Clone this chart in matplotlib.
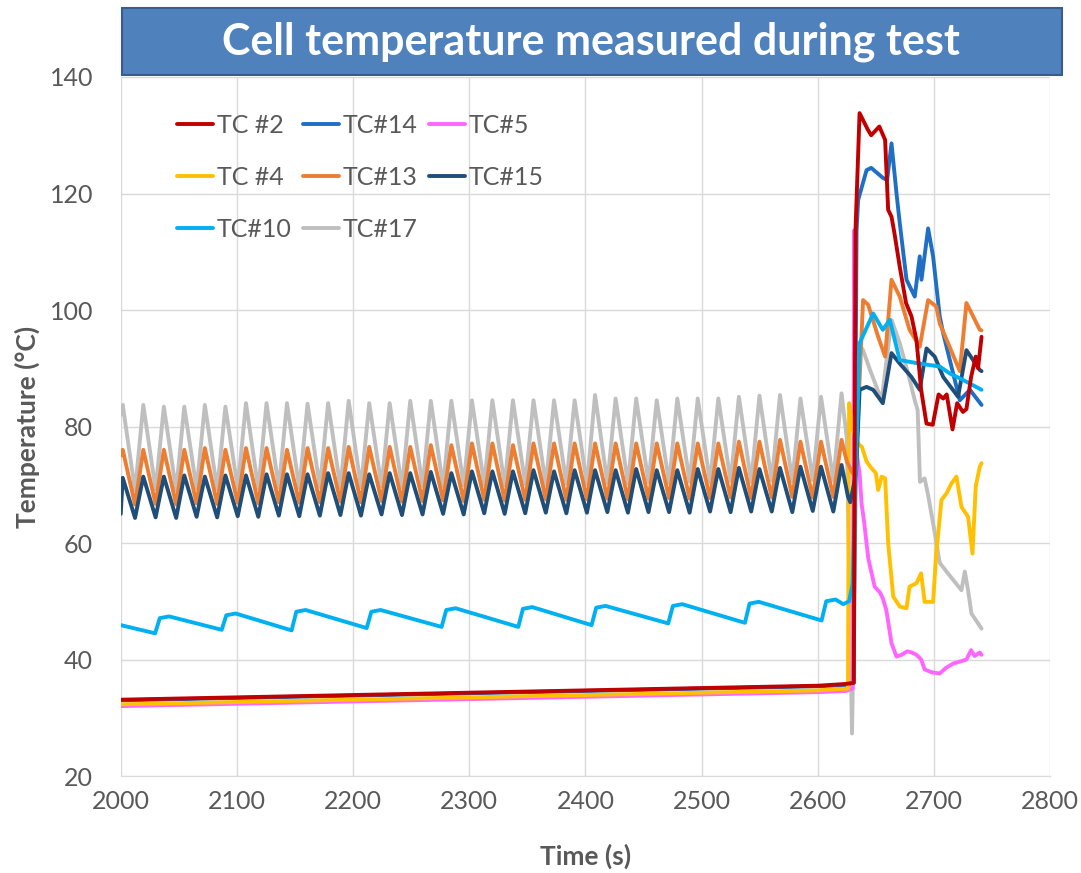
# fmt: off
import matplotlib
matplotlib.use("Agg")
import matplotlib.pyplot as plt
from matplotlib.patches import Rectangle

plt.rcParams.update({'font.family': ['Lato', 'DejaVu Sans'], 'font.size': 18})

# --- cyclic part (2000 - 2625 s): peak times and peak / trough values
peak_t = [2001.7, 2019.4, 2037.1, 2054.7, 2072.4, 2090.1, 2107.8, 2125.5, 2143.1, 2160.8,
          2178.5, 2196.2, 2213.9, 2231.5, 2249.2, 2266.9, 2284.6, 2302.3, 2319.9, 2337.6,
          2355.3, 2373.0, 2390.7, 2408.3, 2426.0, 2443.7, 2461.4, 2479.1, 2496.7, 2514.4,
          2532.1, 2549.8, 2567.5, 2585.1, 2602.8, 2620.5]

tc17_peak = [83.7, 83.7, 83.4, 83.4, 83.7, 83.4, 84.0, 84.0, 84.0, 83.9, 84.0, 84.4, 84.0, 84.0, 84.4, 84.4, 84.4, 84.5,
             84.5, 84.5, 84.5, 84.5, 84.5, 85.4, 84.8, 84.8, 84.5, 84.8, 84.8, 84.8, 85.1, 85.3, 85.4, 84.8, 85.1, 85.7]
tc17_trough = [69.0, 69.2, 69.0, 69.3, 69.2, 69.4, 69.3, 69.5, 69.4, 69.6, 69.5, 69.6, 69.7, 69.6, 69.8, 69.7, 69.9, 70.0,
               69.9, 70.1, 70.0, 70.2, 70.1, 70.3, 70.2, 70.4, 70.3, 70.5, 70.4, 70.6, 70.5, 70.7, 70.6, 70.8, 70.7]

tc13_peak = [76.0, 76.0, 76.0, 76.0, 76.3, 76.0, 76.3, 76.3, 76.0, 76.3, 76.3, 76.5, 76.5, 76.5, 76.5, 76.8, 76.8, 77.1,
             77.1, 76.8, 77.1, 77.1, 77.1, 77.1, 77.1, 77.1, 77.1, 77.1, 77.1, 77.1, 77.4, 77.4, 77.7, 77.4, 77.4, 77.7]
tc13_trough = [66.6, 66.7, 66.6, 66.8, 66.7, 66.9, 66.8, 67.0, 66.9, 67.0, 67.1, 67.0, 67.2, 67.1, 67.2, 67.3, 67.2, 67.4,
               67.3, 67.4, 67.5, 67.4, 67.5, 67.6, 67.5, 67.6, 67.7, 67.6, 67.7, 67.8, 67.7, 67.8, 67.9, 67.8, 67.9]

tc15_peak = [71.2, 71.4, 71.4, 71.6, 71.4, 71.6, 71.6, 71.8, 71.8, 71.8, 72.0, 72.0, 71.8, 72.0, 72.0, 72.2, 72.0, 72.3,
             72.3, 72.3, 72.5, 72.3, 72.5, 72.5, 72.5, 72.7, 72.5, 72.5, 72.7, 72.7, 72.9, 72.7, 72.9, 73.1, 73.1, 73.4]
tc15_trough = [64.3, 64.4, 64.3, 64.5, 64.4, 64.6, 64.5, 64.7, 64.6, 64.7, 64.8, 64.7, 64.9, 64.8, 64.9, 65.0, 64.9, 65.1,
               65.0, 65.1, 65.2, 65.1, 65.2, 65.3, 65.2, 65.3, 65.3, 65.2, 65.4, 65.3, 65.4, 65.4, 65.3, 65.5, 65.4]

# TC#10 sawtooth: jump times, value just before jump, value after jump
tc10_jump_t = [2029.6, 2086.9, 2147.1, 2211.7, 2276.2, 2342.2, 2405.3, 2471.3, 2537.3, 2603.3]
tc10_low = [44.5, 45.1, 45.0, 45.4, 45.6, 45.6, 45.9, 46.2, 46.3, 46.7]
tc10_high = [47.4, 47.9, 48.5, 48.5, 48.8, 49.0, 49.2, 49.5, 49.9, 50.3]

# slowly rising cell readings before the event
base_t = [2000, 2100, 2200, 2300, 2400, 2500, 2600, 2624]
tc2_base = [33.1, 33.5, 33.9, 34.3, 34.7, 35.1, 35.5, 35.8]
tc4_base = [32.3, 32.7, 33.1, 33.5, 33.9, 34.3, 34.7, 35.0]
tc5_base = [32.0, 32.4, 32.8, 33.2, 33.6, 34.0, 34.4, 34.6]
tc14_base = [33.0, 33.4, 33.8, 34.2, 34.6, 35.0, 35.4, 35.6]

# --- event (> 2624 s)
tc2_t = [2631, 2632.5, 2636, 2643, 2646, 2653, 2658, 2660.6, 2663.5, 2666, 2670.6, 2676, 2680.7, 2685, 2689,
         2693.6, 2699, 2704, 2708, 2711, 2716, 2720, 2725, 2728, 2732, 2736, 2738, 2741]
tc2_v = [36.0, 113.7, 133.8, 131.0, 130.0, 131.5, 129.2, 117.2, 116.0, 113.2, 107.4, 101.2, 98.9, 94.8, 86.3,
         80.5, 80.3, 85.5, 84.8, 85.5, 79.5, 84.0, 82.5, 83.0, 88.5, 92.0, 90.0, 95.4]

tc14_t = [2631, 2633.4, 2634.8, 2642, 2646, 2656, 2659.7, 2663.5, 2667.8, 2670.6, 2676.4, 2683.5, 2687.8, 2689.3,
          2695, 2699.3, 2705, 2708, 2713.7, 2722.3, 2731, 2741]
tc14_v = [36.0, 113.7, 118.9, 124.0, 124.4, 122.7, 122.3, 128.6, 120.0, 114.9, 105.2, 102.3, 109.2, 105.2,
          114.0, 109.2, 98.9, 96.0, 91.4, 84.5, 86.3, 83.7]

tc5_t = [2630, 2631.5, 2633, 2636, 2637.7, 2640, 2643.4, 2645, 2649, 2653.6, 2656, 2659, 2661, 2663.5, 2667.8, 2672,
         2677, 2681, 2685, 2689, 2692, 2698, 2705, 2710, 2716.5, 2725, 2728, 2732, 2735, 2739.5, 2741]
tc5_v = [35.0, 113.7, 76.0, 72.0, 66.8, 63.5, 57.5, 56.0, 52.5, 51.5, 50.5, 48.5, 46.0, 42.8, 40.5, 40.8,
         41.4, 41.2, 40.8, 40.0, 38.3, 37.8, 37.6, 38.5, 39.3, 39.8, 40.0, 41.6, 40.6, 41.2, 40.8]

tc4_t = [2626, 2627, 2630, 2635, 2638, 2642, 2646, 2650, 2652, 2655, 2658, 2660.6, 2665, 2670.6, 2676.4, 2679,
         2685, 2689, 2692, 2699.3, 2702, 2706.5, 2710.8, 2715, 2719.4, 2723.7, 2729.4, 2733.2, 2736, 2739.5, 2741]
tc4_v = [35.0, 84.0, 79.5, 77.0, 76.5, 74.0, 72.9, 72.0, 69.1, 71.4, 71.1, 60.0, 50.8, 49.1, 48.8, 52.5,
         53.1, 54.8, 49.9, 49.9, 58.2, 67.4, 68.5, 70.2, 71.4, 66.2, 64.5, 58.2, 69.7, 73.1, 73.7]

tc13_t = [2625, 2630, 2633, 2639, 2643.4, 2652, 2658, 2663.5, 2670.6, 2679, 2687.8, 2695, 2702, 2705, 2722.3,
          2728, 2739.5, 2741]
tc13_v = [74.0, 72.0, 74.0, 101.7, 100.9, 95.4, 92.0, 105.2, 102.3, 96.6, 93.7, 101.7, 100.6, 97.7, 89.5,
          101.2, 96.6, 96.5]

tc15_t = [2626, 2628, 2633, 2636, 2642, 2647.7, 2656, 2663.5, 2670.6, 2680.7, 2687.8, 2693.6, 2700.7, 2708,
          2720.8, 2728, 2739.5, 2741]
tc15_v = [68.0, 67.0, 72.0, 86.3, 86.8, 86.3, 84.0, 92.6, 90.8, 88.5, 86.3, 93.4, 92.0, 88.5,
          85.1, 93.1, 89.7, 89.5]

tc10_t = [2622, 2627, 2630, 2636, 2647.7, 2656, 2662, 2670.6, 2687.8, 2705, 2713.7, 2725, 2741]
tc10_v = [49.5, 50.0, 53.0, 94.3, 99.4, 96.6, 98.3, 91.4, 90.8, 90.3, 89.1, 88.0, 86.3]

tc17_t = [2625, 2629.5, 2634.8, 2639, 2645, 2655, 2663.5, 2670.6, 2677.8, 2683.5, 2686, 2688, 2692, 2695,
          2700.7, 2705, 2712, 2723.7, 2726.6, 2729.4, 2732.3, 2741]
tc17_v = [78.0, 27.3, 94.3, 93.1, 89.7, 84.5, 98.3, 94.3, 89.1, 84.5, 82.8, 70.5, 71.1, 68.2,
          61.8, 56.6, 54.8, 51.9, 55.1, 51.9, 47.9, 45.3]


def cyclic(start_v, peaks, troughs, event_t, event_v):
    t, v = [2000.0], [start_v]
    for i, tp in enumerate(peak_t):
        t.append(tp)
        v.append(peaks[i])
        if i < len(troughs):
            t.append(tp + 10.6)
            v.append(troughs[i])
    return t + event_t, v + event_v


def sawtooth():
    t, v = [2000.0], [45.9]
    for tj, lo, hi in zip(tc10_jump_t, tc10_low, tc10_high):
        t += [tj, tj + 4, tj + 12]
        v += [lo, hi - 0.3, hi]
    return t + tc10_t, v + tc10_v


colors = {
    "TC #2": "#c00000", "TC#14": "#1f6fc5", "TC#5": "#ff66ff", "TC #4": "#ffc000",
    "TC#13": "#ed7d31", "TC#15": "#1f4e79", "TC#10": "#00b0f0", "TC#17": "#bfbfbf",
}

series = {
    "TC#17": cyclic(82.0, tc17_peak, tc17_trough, tc17_t, tc17_v),
    "TC#14": (base_t + tc14_t, tc14_base + tc14_v),
    "TC#5": (base_t + tc5_t, tc5_base + tc5_v),
    "TC #4": (base_t + tc4_t, tc4_base + tc4_v),
    "TC#13": cyclic(75.0, tc13_peak, tc13_trough, tc13_t, tc13_v),
    "TC#15": cyclic(65.0, tc15_peak, tc15_trough, tc15_t, tc15_v),
    "TC#10": sawtooth(),
    "TC #2": (base_t + tc2_t, tc2_base + tc2_v),
}

fig = plt.figure(figsize=(10.81, 8.73), dpi=100)
ax = fig.add_axes([0.1117, 0.1111, 0.8597, 0.8007])

lines = {}
for name, (t, v) in series.items():
    lines[name], = ax.plot(t, v, color=colors[name], linewidth=2.8,
                           solid_joinstyle="round", solid_capstyle="round")

ax.set_xlim(2000, 2800)
ax.set_ylim(20, 140)
ax.set_xticks(range(2000, 2801, 100))
ax.set_yticks(range(20, 141, 20))
ax.grid(True, color="#d9d9d9", linewidth=1)
ax.set_axisbelow(True)
for s in ["top", "right", "left"]:
    ax.spines[s].set_visible(False)
ax.spines["bottom"].set_color("#d9d9d9")
ax.tick_params(length=0, labelcolor="#595959", labelsize=18)
ax.tick_params(axis="y", pad=20)
ax.tick_params(axis="x", pad=10)

ax.set_xlabel("Time (s)", fontsize=19, fontweight="bold", color="#595959", labelpad=22)
ax.set_ylabel("Temperature (°C)", fontsize=19, fontweight="bold", color="#595959", labelpad=7)

# legend is filled row-wise in the reference -> give handles column-wise
order = ["TC #2", "TC #4", "TC#10", "TC#14", "TC#13", "TC#17", "TC#5", "TC#15"]
ax.legend([lines[n] for n in order], order, ncol=3, frameon=False, loc="upper left",
          bbox_to_anchor=(177 / 1081, 1 - 114 / 873), bbox_transform=fig.transFigure,
          borderpad=0, borderaxespad=0, handlelength=1.44, handletextpad=0.15,
          columnspacing=0.45, labelspacing=1.16, fontsize=18, labelcolor="#595959")

# title banner
fig.patches.append(Rectangle((122 / 1081, 1 - 75 / 873), 940 / 1081, 67 / 873,
                             transform=fig.transFigure, facecolor="#4f81bd",
                             edgecolor="#385d8a", linewidth=1.5, zorder=5))
fig.text(591 / 1081, 1 - 42 / 873, "Cell temperature measured during test", color="white",
         fontsize=31, fontweight="bold", ha="center", va="center", zorder=6)

fig.savefig("out.png", dpi=100)
